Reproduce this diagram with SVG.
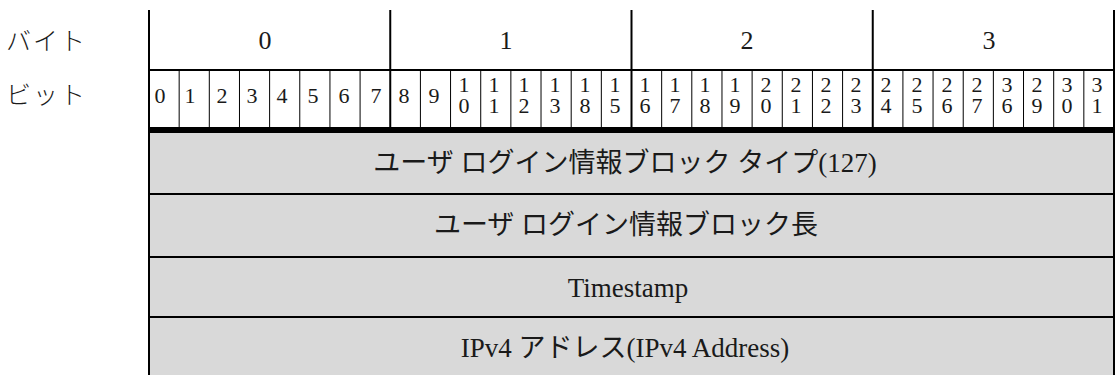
<svg xmlns="http://www.w3.org/2000/svg" width="1118" height="375" viewBox="0 0 1118 375">
<style>
.t{font-family:"Liberation Serif","Noto Sans CJK JP",serif;fill:#1a1a1a}
.lab{font-size:25px;letter-spacing:2px;font-weight:300}
.byte{font-size:26px;text-anchor:middle}
.bit{font-size:22px;text-anchor:middle}
.fld{font-size:27px;text-anchor:middle}
.thin{stroke:#000;stroke-width:1;fill:none}
.mid{stroke:#000;stroke-width:2;fill:none}
.thick{stroke:#000;stroke-width:6;fill:none}
.cell{fill:#d9d9d9}
</style>
<rect width="1118" height="375" fill="#fff"/>
<g id="labels">
<text class="t lab" x="6" y="50">バイト</text>
<text class="t lab" x="6" y="104">ビット</text>
</g>
<g id="fields">
<rect class="cell" x="149" y="130" width="965" height="245"/>
<g id="field-type"><text class="t fld" x="625" y="172">ユーザ ログイン情報ブロック タイプ(127)</text></g>
<g id="field-length"><text class="t fld" x="626" y="234">ユーザ ログイン情報ブロック長</text></g>
<g id="field-timestamp"><text class="t fld" x="628" y="297">Timestamp</text></g>
<g id="field-ipv4"><text class="t fld" x="625" y="357">IPv4 アドレス(IPv4 Address)</text></g>
</g>
<g id="bytes">
<text class="t byte" x="265" y="49">0</text>
<text class="t byte" x="506" y="49">1</text>
<text class="t byte" x="747" y="49">2</text>
<text class="t byte" x="989" y="49">3</text>
</g>
<g id="bits">
<text class="t bit" x="160" y="103">0</text>
<text class="t bit" x="190" y="103">1</text>
<text class="t bit" x="222" y="103">2</text>
<text class="t bit" x="252" y="103">3</text>
<text class="t bit" x="282" y="103">4</text>
<text class="t bit" x="313" y="103">5</text>
<text class="t bit" x="344" y="103">6</text>
<text class="t bit" x="376" y="103">7</text>
<text class="t bit" x="404" y="103">8</text>
<text class="t bit" x="434" y="103">9</text>
<text class="t bit"><tspan x="464" y="92">1</tspan><tspan x="464" y="113">0</tspan></text>
<text class="t bit"><tspan x="494" y="92">1</tspan><tspan x="494" y="113">1</tspan></text>
<text class="t bit"><tspan x="524" y="92">1</tspan><tspan x="524" y="113">2</tspan></text>
<text class="t bit"><tspan x="555" y="92">1</tspan><tspan x="555" y="113">3</tspan></text>
<text class="t bit"><tspan x="585" y="92">1</tspan><tspan x="585" y="113">8</tspan></text>
<text class="t bit"><tspan x="615" y="92">1</tspan><tspan x="615" y="113">5</tspan></text>
<text class="t bit"><tspan x="645" y="92">1</tspan><tspan x="645" y="113">6</tspan></text>
<text class="t bit"><tspan x="675" y="92">1</tspan><tspan x="675" y="113">7</tspan></text>
<text class="t bit"><tspan x="705" y="92">1</tspan><tspan x="705" y="113">8</tspan></text>
<text class="t bit"><tspan x="735" y="92">1</tspan><tspan x="735" y="113">9</tspan></text>
<text class="t bit"><tspan x="766" y="92">2</tspan><tspan x="766" y="113">0</tspan></text>
<text class="t bit"><tspan x="796" y="92">2</tspan><tspan x="796" y="113">1</tspan></text>
<text class="t bit"><tspan x="826" y="92">2</tspan><tspan x="826" y="113">2</tspan></text>
<text class="t bit"><tspan x="856" y="92">2</tspan><tspan x="856" y="113">3</tspan></text>
<text class="t bit"><tspan x="886" y="92">2</tspan><tspan x="886" y="113">4</tspan></text>
<text class="t bit"><tspan x="917" y="92">2</tspan><tspan x="917" y="113">5</tspan></text>
<text class="t bit"><tspan x="947" y="92">2</tspan><tspan x="947" y="113">6</tspan></text>
<text class="t bit"><tspan x="977" y="92">2</tspan><tspan x="977" y="113">7</tspan></text>
<text class="t bit"><tspan x="1007" y="92">3</tspan><tspan x="1007" y="113">6</tspan></text>
<text class="t bit"><tspan x="1037" y="92">2</tspan><tspan x="1037" y="113">9</tspan></text>
<text class="t bit"><tspan x="1067" y="92">3</tspan><tspan x="1067" y="113">0</tspan></text>
<text class="t bit"><tspan x="1097" y="92">3</tspan><tspan x="1097" y="113">1</tspan></text>
</g>
<g id="connectors">
<path class="thin" d="M179.16 70V127M209.31 70V127M239.47 70V127M269.62 70V127M299.78 70V127M329.94 70V127M360.09 70V127M420.41 70V127M450.56 70V127M480.72 70V127M510.87 70V127M541.03 70V127M571.19 70V127M601.34 70V127M661.66 70V127M691.81 70V127M721.97 70V127M752.12 70V127M782.28 70V127M812.44 70V127M842.59 70V127M902.91 70V127M933.06 70V127M963.22 70V127M993.37 70V127M1023.53 70V127M1053.69 70V127M1083.84 70V127"/>
<path class="mid" d="M149 10V375M390.25 10V127M631.5 10V127M872.75 10V127M1114 10V375M149 70H1114M149 194H1114M149 257H1114M149 317H1114"/>
<path class="thick" d="M149 130H1115"/>
</g>
</svg>
